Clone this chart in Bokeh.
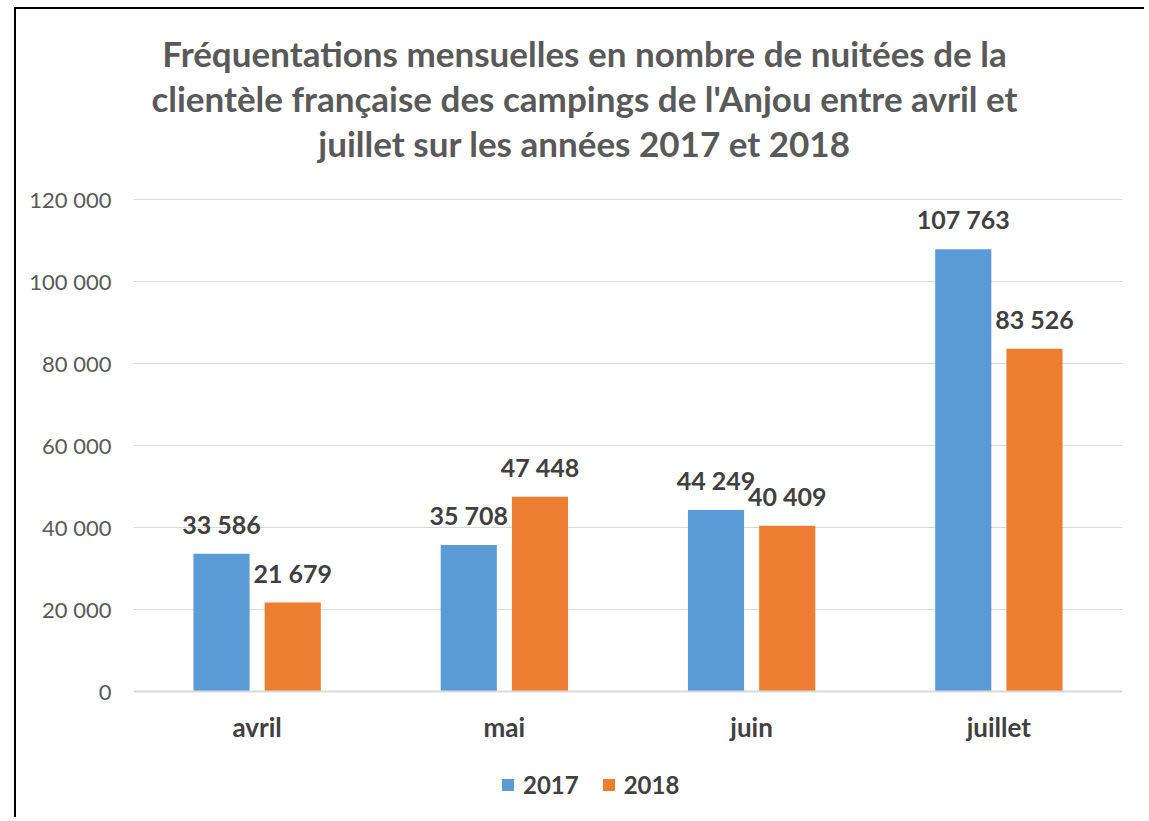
from bokeh.plotting import figure
from bokeh.models import (ColumnDataSource, FactorRange, LabelSet, Label, Legend, LegendItem,
                          CustomJSTickFormatter, Range1d)
from bokeh.core.properties import value
from bokeh.transform import dodge
from bokeh.embed import file_html
from bokeh.resources import INLINE

months = ["avril", "mai", "juin", "juillet"]
v2017 = [33586, 35708, 44249, 107763]
v2018 = [21679, 47448, 40409, 83526]
years = ["2017", "2018"]
y_ticks = [0, 20000, 40000, 60000, 80000, 100000, 120000]
title_lines = [
    "Fréquentations mensuelles en nombre de nuitées de la",
    "clientèle française des campings de l'Anjou entre avril et",
    "juillet sur les années 2017 et 2018",
]

def fmt(v):
    return f"{v:,}".replace(",", " ")

src = ColumnDataSource(dict(
    month=months, v2017=v2017, v2018=v2018,
    l2017=[fmt(v) for v in v2017], l2018=[fmt(v) for v in v2018],
))

FONT = "Lato"
# page geometry (canvas origin at page (16, 9) because of the css margin + border)
OX, OY = 16, 9
W, H = 1130, 810
F_LEFT, F_RIGHT, Y0, Y120 = 133, 1122, 691, 198.5
px_per_unit = (Y0 - Y120) / 120000.0
y_top = (Y0 - OY) / px_per_unit          # frame reaches canvas top (title inside it)
y_bot = -(OY + H - Y0) / px_per_unit     # and canvas bottom (legend inside it)

p = figure(x_range=FactorRange(*months), y_range=Range1d(y_bot, y_top), width=W, height=H,
           output_backend="svg", toolbar_location=None,
           min_border_left=F_LEFT - OX, min_border_right=OX + W - F_RIGHT,
           min_border_top=0, min_border_bottom=0)
p.styles = {"border-left": "2px solid black", "border-top": "2px solid black",
            "margin-left": "14px", "margin-top": "7px"}
p.outline_line_color = None
p.background_fill_color = "white"
p.border_fill_color = "white"

c17, c18 = "#5B9BD5", "#ED7D31"
r1 = p.vbar(x=dodge("month", -0.144, range=p.x_range), top="v2017", width=0.227, source=src,
            fill_color=c17, line_color=None)
r2 = p.vbar(x=dodge("month", 0.144, range=p.x_range), top="v2018", width=0.227, source=src,
            fill_color=c18, line_color=None)

for off, col, ys in [(-0.144, "l2017", "v2017"), (0.144, "l2018", "v2018")]:
    p.add_layout(LabelSet(x=dodge("month", off, range=p.x_range), y=ys, text=col, source=src,
                          text_align="center", text_baseline="alphabetic", y_offset=20,
                          text_font=value(FONT), text_font_style="bold", text_font_size="25px",
                          text_color="#404040"))

p.xgrid.grid_line_color = None
p.ygrid.grid_line_color = "#D9D9D9"
p.ygrid.grid_line_width = 1.2
p.yaxis.ticker = y_ticks
p.ygrid.ticker = y_ticks[1:]
p.yaxis.formatter = CustomJSTickFormatter(code="return tick.toString().replace(/\\B(?=(\\d{3})+(?!\\d))/g, ' ');")
p.yaxis.axis_line_color = None
p.yaxis.major_tick_line_color = None
p.yaxis.minor_tick_line_color = None
p.yaxis.major_tick_out = 0
p.yaxis.major_label_text_font = FONT
p.yaxis.major_label_text_font_size = "22px"
p.yaxis.major_label_text_color = "#595959"
p.yaxis.major_label_standoff = 22

p.xaxis.fixed_location = 0
p.xaxis.axis_line_color = "#D9D9D9"
p.xaxis.axis_line_width = 2
p.xaxis.major_tick_line_color = None
p.xaxis.minor_tick_line_color = None
p.xaxis.major_tick_out = 0
p.xaxis.major_tick_in = 0
p.xaxis.major_label_text_font = FONT
p.xaxis.major_label_text_font_style = "bold"
p.xaxis.major_label_text_font_size = "26px"
p.xaxis.major_label_text_color = "#404040"
p.xaxis.major_label_standoff = 19

# title lines, inside the (extended) frame; vertical middles measured in page pixels
TITLE_SIZE = 35
for txt, mid in zip(title_lines, [52, 97.5, 142.5]):
    p.add_layout(Label(x=584 - F_LEFT, x_units="screen", y=(Y0 - mid) / px_per_unit, y_units="data",
                       text=txt, text_align="center", text_baseline="middle", text_font=FONT,
                       text_font_style="bold", text_font_size=f"{TITLE_SIZE}px", text_color="#595959"))

legend = Legend(items=[LegendItem(label=years[0], renderers=[r1]),
                       LegendItem(label=years[1], renderers=[r2])],
                orientation="horizontal", location=(500 - F_LEFT, 20), padding=0, margin=0,
                glyph_width=15, glyph_height=15, label_standoff=8, spacing=22,
                label_text_font=FONT, label_text_font_style="bold", label_text_font_size="24px",
                label_text_color="#404040", border_line_color=None, background_fill_alpha=0)
p.add_layout(legend, "center")

open("out.html", "w").write(file_html(p, INLINE))
